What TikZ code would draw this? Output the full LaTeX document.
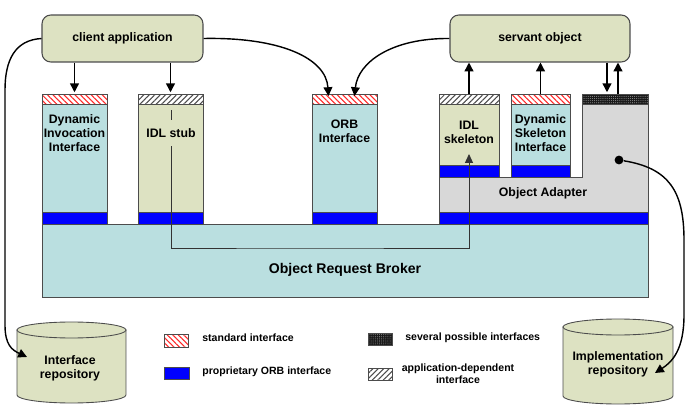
\documentclass[tikz,border=0pt]{standalone}
\usepackage{fontspec}
\setmainfont{Liberation Sans}
\usetikzlibrary{arrows.meta,patterns.meta}

\definecolor{orbblue}{RGB}{186,223,224}   % light blue of ORB parts
\definecolor{appolive}{RGB}{221,226,194}  % pale olive of application parts
\definecolor{adaptgrey}{RGB}{216,216,216} % grey of the object adapter
\definecolor{propblue}{RGB}{0,0,255}      % proprietary ORB interface

\begin{document}
\begin{tikzpicture}[x=0.02cm, y=-0.02cm,
  lbl/.style={font=\fontsize{7}{8}\selectfont\bfseries, align=center, inner sep=1pt},
  legendtxt/.style={font=\fontsize{6}{7}\selectfont\bfseries, align=center, inner sep=0pt},
  appbox/.style={draw=black!70, fill=appolive, rounded corners=5pt, line width=0.6pt,
    minimum width=3.22cm, minimum height=0.94cm, font=\fontsize{7}{8}\selectfont\bfseries},
  outline/.style={draw=black!70, line width=0.5pt},
  strip/.style={outline, fill=propblue},
  stdhatch/.style={outline, pattern={Lines[angle=-45,distance=2.2pt,line width=0.6pt]}, pattern color=red!85},
  apphatch/.style={outline, pattern={Lines[angle=45,distance=2.2pt,line width=0.6pt]}, pattern color=black!70},
  severalhatch/.style={outline, pattern={Dots[distance=1.2pt,radius=0.3pt]}, pattern color=black!45},
  conn/.style={line width=0.8pt, -{Triangle[length=5pt,width=5pt]}},
  thinconn/.style={line width=0.5pt, draw=black!80, -{Triangle[length=5pt,width=4.5pt]}}]

\useasboundingbox (0,0) rectangle (694,419);

%─────────────
% Column: hatched top, body, blue strip
%─────────────
\newcommand{\drawColumn}[6]{%
  % #1 name, #2 left, #3 right, #4 strip top, #5 body colour, #6 hatch style
  \filldraw[outline, fill=#5] (#2,104) rectangle (#3,#4);
  \filldraw[strip] (#2,#4) rectangle (#3,{#4+12});
  \fill[white] (#2,94) rectangle (#3,104);
  \filldraw[#6] (#2,94) rectangle (#3,104);
  \coordinate (#1-top) at ({(#2+#3)/2},94);
}

%─────────────
% Object Request Broker
%─────────────
\filldraw[outline, fill=orbblue] (42,224) rectangle (648,297);
\node[lbl, font=\fontsize{8}{9}\selectfont\bfseries] (orb) at (345,270) {Object Request Broker};

%─────────────
% Object Adapter
%─────────────
\filldraw[outline, fill=adaptgrey] (439,177) -- (582,177) -- (582,104) -- (648,104)
  -- (648,212) -- (439,212) -- cycle;
\filldraw[strip] (439,212) rectangle (648,224);
\fill[black!90] (582,94) rectangle (648,104);
\filldraw[severalhatch] (582,94) rectangle (648,104);
\coordinate (sev-down) at (607,94);
\coordinate (sev-up) at (618,94);
\node[lbl] (adapter) at (543,193) {Object Adapter};

%─────────────
% Columns
%─────────────
\drawColumn{dii}{42}{107}{212}{orbblue}{stdhatch}
\drawColumn{stub}{138}{203}{212}{appolive}{apphatch}
\drawColumn{orbif}{312}{377}{212}{orbblue}{stdhatch}
\drawColumn{skel}{439}{499}{165}{appolive}{apphatch}
\drawColumn{dsi}{511}{570}{165}{orbblue}{stdhatch}

% static call path from stub to skeleton
\coordinate (stubin) at (171,110);
\coordinate (orbrun) at (300,248);
\coordinate (skelin) at (469,154);
\draw[thinconn] (stubin) |- (orbrun) -| (skelin);

\node[lbl] (diilbl) at (74.5,133) {Dynamic\\Invocation\\Interface};
\node[lbl, fill=appolive, inner ysep=5pt] (stublbl) at (171,133) {IDL stub};
\node[lbl] (orbiflbl) at (344.5,131) {ORB\\Interface};
\node[lbl] (skellbl) at (469,132) {IDL\\skeleton};
\node[lbl] (dsilbl) at (540.5,133) {Dynamic\\Skeleton\\Interface};

%─────────────
% Applications
%─────────────
\node[appbox] (client) at (122.5,38.5) {client application};
\node[appbox, minimum width=3.6cm] (servant) at (540,38.5) {servant object};

\draw[conn] (client.south -| dii-top) -- ([yshift=1pt]dii-top);
\draw[conn] (client.south -| stub-top) -- ([yshift=1pt]stub-top);
\draw[conn] (client.east) .. controls (280,37) and (326,58) .. ([shift={(-16,2)}]orbif-top);
\draw[conn] (servant.west) .. controls (392,38) and (358,62) .. ([shift={(10,2)}]orbif-top);
\draw[conn] (skel-top) -- (skel-top |- servant.south);
\draw[conn] (dsi-top) -- (dsi-top |- servant.south);
\draw[conn] (sev-down |- servant.south) -- ([yshift=1pt]sev-down);
\draw[conn] (sev-up) -- (sev-up |- servant.south);

%─────────────
% Repositories
%─────────────
\filldraw[outline, fill=appolive] (17,330) -- (17,395)
  arc[start angle=180, end angle=360, x radius=1.09cm, y radius=0.16cm] -- (126,330) -- cycle;
\filldraw[outline, fill=appolive] (71.5,330) ellipse [x radius=1.09cm, y radius=0.16cm];
\node[lbl] (intrepo) at (70,368) {Interface\\repository};
\coordinate (intin) at (27,357);

\filldraw[outline, fill=appolive] (563,327) -- (563,396)
  arc[start angle=180, end angle=360, x radius=1.1cm, y radius=0.16cm] -- (673,327) -- cycle;
\filldraw[outline, fill=appolive] (618,327) ellipse [x radius=1.1cm, y radius=0.16cm];
\node[lbl] (implrepo) at (618,364) {Implementation\\repository};
\coordinate (implin) at (655,373);

\coordinate (clientout) at (5,90);
\draw[conn] (client.west) .. controls (15,40) and (5,60) .. (clientout)
  -- (5,325) .. controls (5,345) and (12,350) .. (intin);

\node[circle, fill=black, inner sep=0pt, minimum size=5pt] (adaptdot) at (619,160) {};
\draw[conn] (adaptdot) .. controls (668,168) and (684,190) .. (684,240)
  -- (684,315) .. controls (684,350) and (672,362) .. (implin);

%─────────────
% Legend
%─────────────
\fill[white] (164,334) rectangle (188,347);
\filldraw[stdhatch] (164,334) rectangle (188,347);
\node[legendtxt, anchor=west] (lg-std) at (202,338) {standard interface};
\filldraw[strip] (164,367) rectangle (189,379);
\node[legendtxt, anchor=west] (lg-prop) at (202,372) {proprietary ORB interface};
\fill[black!90] (368,333) rectangle (392,345);
\filldraw[severalhatch] (368,333) rectangle (392,345);
\node[legendtxt, anchor=west] (lg-sev) at (405,338) {several possible interfaces};
\fill[white] (368,368) rectangle (392,380);
\filldraw[apphatch] (368,368) rectangle (392,380);
\node[legendtxt] (lg-app) at (458,374) {application-dependent\\interface};

\end{tikzpicture}
\end{document}
